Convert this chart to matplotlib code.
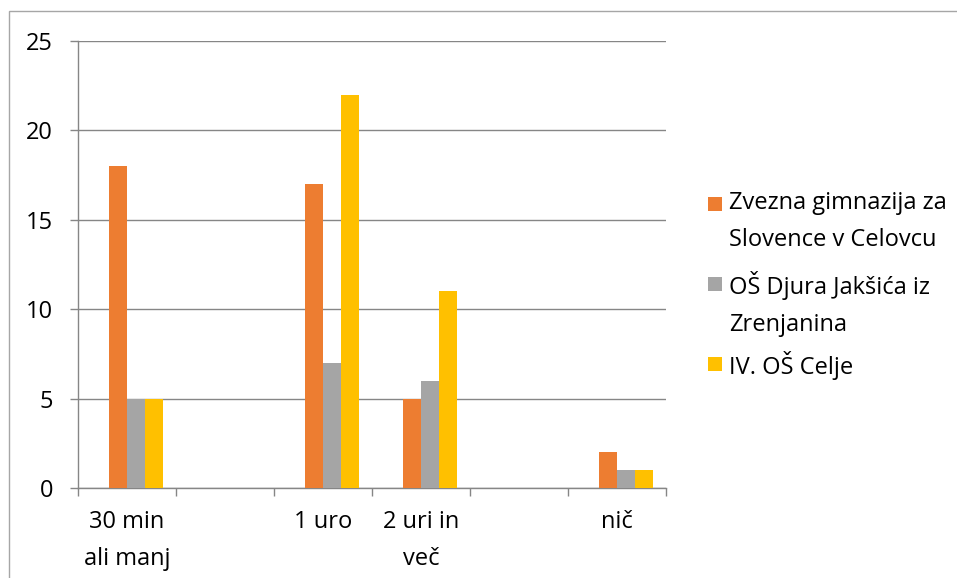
import numpy as np
import matplotlib.pyplot as plt
from matplotlib.patches import Rectangle

# ---------------------------------------------------------------------------
# Data
# ---------------------------------------------------------------------------
categories = ["30 min\nali manj", "", "1 uro", "2 uri in\nveč", "", "nič"]
series_names = [
    "Zvezna gimnazija za\nSlovence v Celovcu",
    "OŠ Djura Jakšića iz\nZrenjanina",
    "IV. OŠ Celje",
]
celovec = [18, np.nan, 17, 5, np.nan, 2]
zrenjanin = [5, np.nan, 7, 6, np.nan, 1]
celje = [5, np.nan, 22, 11, np.nan, 1]
y_ticks = [0, 5, 10, 15, 20, 25]

colors = ["#ED7D31", "#A5A5A5", "#FFC000"]
grid_col = "#868686"
plt.rcParams["font.family"] = ["Open Sans", "DejaVu Sans"]
FS = 17
LS = 1.73

W, H = 957, 578
fig = plt.figure(figsize=(W / 100, H / 100), dpi=100)
ax = fig.add_axes([78 / W, (H - 488) / H, 588 / W, 447 / H])

# Excel-style clustered bars: 4 slots per group (first empty), gap 150%
w = 1 / 5.5
x = np.arange(len(categories))
for j, (vals, c) in enumerate(zip([celovec, zrenjanin, celje], colors)):
    ax.bar(x + (j - 0.5) * w, vals, width=w, color=c, linewidth=0, zorder=3)

ax.set_xlim(-0.5, len(categories) - 0.5)
ax.set_ylim(0, 25)
ax.set_yticks(y_ticks)
ax.set_yticklabels([str(t) for t in y_ticks], fontsize=FS)
ax.yaxis.grid(True, color=grid_col, linewidth=1)
ax.set_axisbelow(True)

ax.set_xticks(x)
ax.set_xticklabels(categories, fontsize=FS, linespacing=LS, va="top")
ax.set_xticks(np.arange(-0.5, len(categories)), minor=True)
ax.tick_params(axis="x", which="major", length=0, pad=16)
ax.tick_params(axis="x", which="minor", length=6, color=grid_col, width=1)
ax.tick_params(axis="y", length=6, color=grid_col, width=1, pad=12)

for s in ("top", "right"):
    ax.spines[s].set_visible(False)
for s in ("left", "bottom"):
    ax.spines[s].set_color(grid_col)
    ax.spines[s].set_linewidth(1)

# legend drawn by hand to match the spacing of the original
marker_y = [204, 284, 364]   # centre of each legend square / first text line
for name, c, ym in zip(series_names, colors, marker_y):
    fig.add_artist(Rectangle((708 / W, 1 - (ym + 7) / H), 14 / W, 14 / H,
                             transform=fig.transFigure, color=c, linewidth=0))
    fig.text(729 / W, 1 - (ym - 13) / H, name, fontsize=FS, va="top",
             ha="left", linespacing=LS)

# outer chart frame (right and bottom edges fall outside the image)
fig.add_artist(Rectangle((9 / W, -0.1), 2, 1 - 11 / H + 0.1,
                         transform=fig.transFigure, fill=False,
                         edgecolor="#A6A6A6", linewidth=1))

fig.savefig("out.png", dpi=100)
